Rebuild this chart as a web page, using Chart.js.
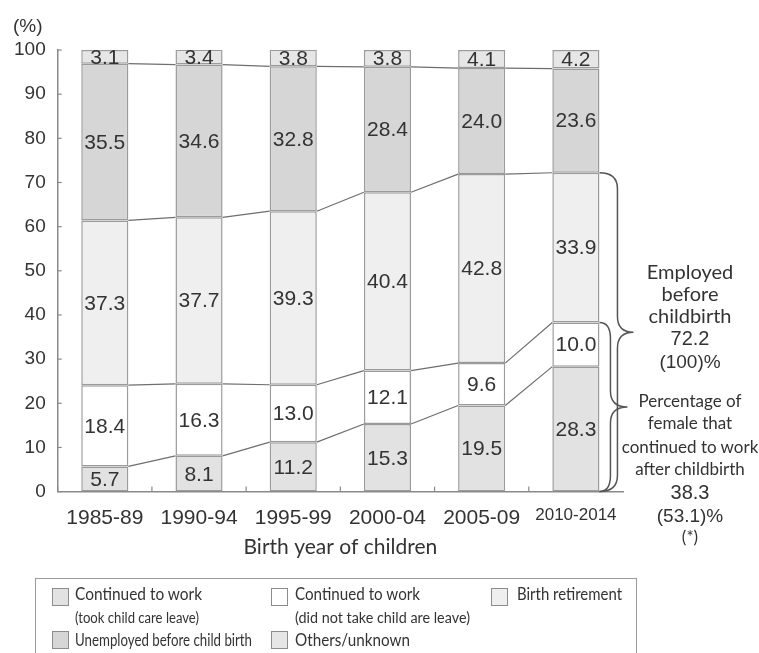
<!DOCTYPE html>
<html>
<head>
<meta charset="utf-8">
<script src="https://cdn.jsdelivr.net/npm/chart.js@4/dist/chart.umd.min.js"></script>
<style>
  html, body { margin: 0; padding: 0; background: #fff; }
  #wrap { position: relative; width: 759px; height: 653px; overflow: hidden; }
  #c { position: absolute; left: 0; top: 0; }
  .t { position: absolute; white-space: nowrap; color: #333; }
  .hum { font-family: Lato, "Open Sans", sans-serif; }
  .ari { font-family: "Liberation Sans", Arial, sans-serif; }
  .sq { position: absolute; border: 1px solid #8c8c8c; box-sizing: border-box; }
  #legendBox { position: absolute; left: 35px; top: 578px; width: 602px; height: 76px; border: 1px solid #9a9a9a; box-sizing: border-box; }
</style>
</head>
<body>
<div id="wrap">
  <canvas id="c" width="759" height="653"></canvas>
  <div class="t ari" style="left:13px; top:14px; font-size:19px; line-height:24px;">(%)</div>
  <div id="legendBox"></div>
</div>
<script>
// ---- data ----
const categories = ['1985-89', '1990-94', '1995-99', '2000-04', '2005-09', '2010-2014'];
const tookLeave       = [5.7, 8.1, 11.2, 15.3, 19.5, 28.3];
const noLeave         = [18.4, 16.3, 13.0, 12.1, 9.6, 10.0];
const birthRetirement = [37.3, 37.7, 39.3, 40.4, 42.8, 33.9];
const unemployed      = [35.5, 34.6, 32.8, 28.4, 24.0, 23.6];
const others          = [3.1, 3.4, 3.8, 3.8, 4.1, 4.2];
const seriesNames = ['Continued to work (took child care leave)', 'Continued to work (did not take child are leave)', 'Birth retirement', 'Unemployed before child birth', 'Others/unknown'];
const yMin = 0, yMax = 100, yStep = 10;
const employedText = ['Employed', 'before', 'childbirth', '72.2', '(100)%'];
const continuedText = ['Percentage of', 'female that', 'continued to work', 'after childbirth', '38.3', '(53.1)%', '(*)'];

// ---- styles ----
const fills = ['#e2e2e2', '#ffffff', '#efefef', '#d6d6d6', '#e6e6e6'];
const seriesValues = [tookLeave, noLeave, birthRetirement, unemployed, others];

const datasets = seriesValues.map((vals, i) => ({
  label: seriesNames[i],
  data: vals,
  backgroundColor: fills[i],
  borderColor: '#9b9b9b',
  borderWidth: 1.5,
  borderSkipped: false,
  categoryPercentage: 1.0,
  barPercentage: 0.5
}));

function drawBrace(ctx, x0, yTop, yBot, xv, xt) {
  const mid = (yTop + yBot) / 2;
  const r = Math.min(16, (yBot - yTop) / 5);
  ctx.beginPath();
  ctx.moveTo(x0, yTop);
  ctx.quadraticCurveTo(xv, yTop, xv, yTop + r);
  ctx.lineTo(xv, mid - r);
  ctx.quadraticCurveTo(xv, mid, xt, mid);
  ctx.quadraticCurveTo(xv, mid, xv, mid + r);
  ctx.lineTo(xv, yBot - r);
  ctx.quadraticCurveTo(xv, yBot, x0, yBot);
  ctx.stroke();
}

const overlay = {
  id: 'overlay',
  afterDatasetsDraw(chart) {
    const ctx = chart.ctx;
    const xs = chart.scales.x, ys = chart.scales.y;
    const area = chart.chartArea;
    ctx.save();
    // connector lines between bars
    ctx.strokeStyle = '#6e6e6e';
    ctx.lineWidth = 1.2;
    for (let d = 0; d < 4; d++) {
      const els = chart.getDatasetMeta(d).data;
      for (let j = 0; j < els.length - 1; j++) {
        const a = els[j].getProps(['x', 'y', 'width'], true);
        const b = els[j + 1].getProps(['x', 'y', 'width'], true);
        ctx.beginPath();
        ctx.moveTo(a.x + a.width / 2, a.y);
        ctx.lineTo(b.x - b.width / 2, b.y);
        ctx.stroke();
      }
    }
    // value labels
    ctx.fillStyle = '#333';
    ctx.font = '21px "Liberation Sans", Arial, sans-serif';
    ctx.textAlign = 'center';
    ctx.textBaseline = 'middle';
    chart.data.datasets.forEach((ds, d) => {
      chart.getDatasetMeta(d).data.forEach((el, j) => {
        const p = el.getProps(['x', 'y', 'base'], true);
        ctx.fillText(ds.data[j].toFixed(1), p.x, (p.y + p.base) / 2 + 1);
      });
    });
    // inward ticks
    ctx.strokeStyle = '#8a8a8a';
    ctx.lineWidth = 1.2;
    for (let v = yMin; v <= yMax; v += yStep) {
      const y = ys.getPixelForValue(v);
      ctx.beginPath(); ctx.moveTo(area.left, y); ctx.lineTo(area.left + 4, y); ctx.stroke();
    }
    for (let i = 0; i < categories.length; i++) {
      const x = i === 0 ? area.left : (xs.getPixelForValue(i - 1) + xs.getPixelForValue(i)) / 2;
      ctx.beginPath(); ctx.moveTo(x, area.bottom); ctx.lineTo(x, area.bottom - 5); ctx.stroke();
    }
    // braces on last bar
    const last = categories.length - 1;
    const el = chart.getDatasetMeta(0).data[last].getProps(['x', 'width'], true);
    const x0 = el.x + el.width / 2;
    const employedSum = tookLeave[last] + noLeave[last] + birthRetirement[last];
    const continuedSum = tookLeave[last] + noLeave[last];
    ctx.strokeStyle = '#555';
    ctx.lineWidth = 1.5;
    drawBrace(ctx, x0, ys.getPixelForValue(employedSum), ys.getPixelForValue(0), x0 + 18, x0 + 34);
    drawBrace(ctx, x0, ys.getPixelForValue(continuedSum), ys.getPixelForValue(0), x0 + 11, x0 + 28);
    ctx.restore();
  }
};

new Chart(document.getElementById('c'), {
  type: 'bar',
  data: { labels: categories, datasets },
  options: {
    responsive: false,
    animation: false,
    devicePixelRatio: 1,
    layout: { padding: { left: 2, right: 136, top: 50, bottom: 93 } },
    plugins: { legend: { display: false }, tooltip: { enabled: false } },
    scales: {
      x: {
        stacked: true,
        grid: { display: false, drawTicks: false },
        border: { display: true, color: '#8a8a8a', width: 1.5 },
        ticks: {
          color: '#333', padding: 14,
          font: (c) => ({ family: '"Liberation Sans", Arial, sans-serif', size: c.index === categories.length - 1 ? 17 : 21 })
        },
        title: { display: true, text: 'Birth year of children', color: '#333', font: { family: 'Lato, "Open Sans", sans-serif', size: 21 }, padding: { top: -10, bottom: 0 } }
      },
      y: {
        stacked: true, min: yMin, max: yMax,
        grid: { display: false, drawTicks: false },
        border: { display: true, color: '#8a8a8a', width: 1.5 },
        ticks: { stepSize: yStep, color: '#333', padding: 12, font: { family: '"Liberation Sans", Arial, sans-serif', size: 19 } }
      }
    }
  },
  plugins: [overlay]
});

// ---- HTML annotations and legend ----
const wrap = document.getElementById('wrap');
function addText(txt, cls, cx, cy, size, align, scale, targetW) {
  const d = document.createElement('div');
  d.className = 't ' + cls;
  d.textContent = txt;
  d.style.fontSize = size + 'px';
  const lh = Math.round(size * 1.3);
  d.style.lineHeight = lh + 'px';
  d.style.top = (cy - lh / 2) + 'px';
  d.style.left = cx + 'px';
  wrap.appendChild(d);
  let s = scale || 1;
  if (targetW) s = targetW / d.getBoundingClientRect().width;
  if (align === 'center') {
    d.style.transform = 'translateX(-50%) scaleX(' + s + ')';
  } else {
    d.style.transformOrigin = 'left center';
    d.style.transform = 'scaleX(' + s + ')';
  }
}
const empY = [271, 293, 315, 338, 361];
const empCls = ['hum', 'hum', 'hum', 'ari', 'ari'];
const empSz = [20, 20, 20, 20, 19];
employedText.forEach((s, i) => addText(s, empCls[i], 690, empY[i], empSz[i], 'center'));
const conY = [401, 423, 447, 469, 492, 515, 537];
const conCls = ['hum', 'hum', 'hum', 'hum', 'ari', 'ari', 'hum'];
const conSz = [17, 17, 17, 17, 20, 19, 17];
continuedText.forEach((s, i) => addText(s, conCls[i], 690, conY[i], conSz[i], 'center', 1));

// legend
const legendItems = [
  { s: 0, sqx: 52, sqy: 588, lines: ['Continued to work', '(took child care leave)'], w: [127, 124], tx: 75 },
  { s: 1, sqx: 271, sqy: 588, lines: ['Continued to work', '(did not take child are leave)'], w: [125, 175], tx: 295 },
  { s: 2, sqx: 491, sqy: 588, lines: ['Birth retirement'], w: [105], tx: 517 },
  { s: 3, sqx: 52, sqy: 631, lines: ['Unemployed before child birth'], w: [177], tx: 75 },
  { s: 4, sqx: 271, sqy: 631, lines: ['Others/unknown'], w: [115], tx: 295 }
];
legendItems.forEach(it => {
  const sq = document.createElement('div');
  sq.className = 'sq';
  sq.style.left = it.sqx + 'px'; sq.style.top = it.sqy + 'px';
  sq.style.width = '17px'; sq.style.height = '18px';
  sq.style.background = fills[it.s];
  wrap.appendChild(sq);
  if (it.lines.length === 2) {
    addText(it.lines[0], 'hum', it.tx, 594, 17, 'left', 1, it.w[0]);
    addText(it.lines[1], 'hum', it.tx, 617, 15.5, 'left', 1, it.w[1]);
  } else {
    addText(it.lines[0], 'hum', it.tx, it.sqy === 588 ? 594 : 640, 17, 'left', 1, it.w[0]);
  }
});
</script>
</body>
</html>
